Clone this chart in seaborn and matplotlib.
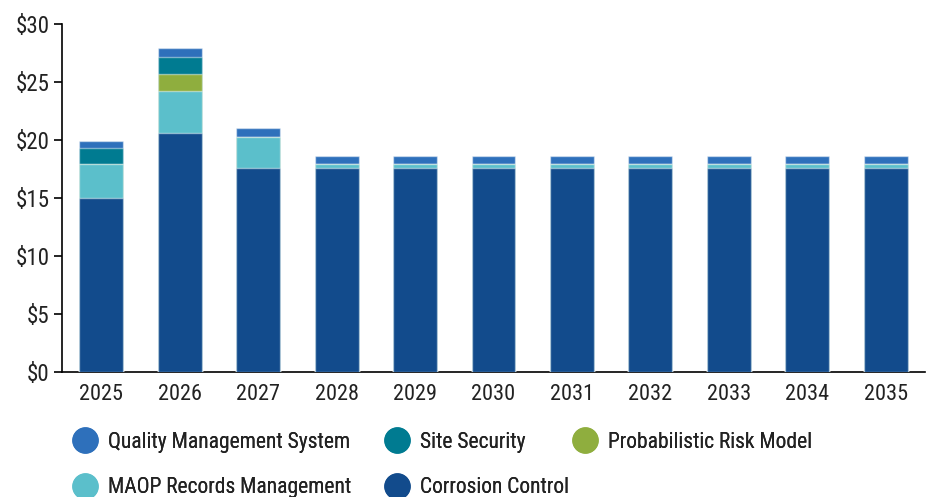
import matplotlib
matplotlib.use("Agg")
import matplotlib.pyplot as plt
from matplotlib import font_manager
from matplotlib.lines import Line2D
import seaborn as sns
import pandas as pd
import numpy as np

years = ["2025", "2026", "2027", "2028", "2029", "2030", "2031", "2032", "2033", "2034", "2035"]
corrosion_control = [15.0, 20.6, 17.6, 17.6, 17.6, 17.6, 17.6, 17.6, 17.6, 17.6, 17.6]
maop_records = [2.9, 3.6, 2.7, 0.3, 0.3, 0.3, 0.3, 0.3, 0.3, 0.3, 0.3]
probabilistic_risk = [0.0, 1.45, 0.0, 0.0, 0.0, 0.0, 0.0, 0.0, 0.0, 0.0, 0.0]
site_security = [1.45, 1.5, 0.0, 0.0, 0.0, 0.0, 0.0, 0.0, 0.0, 0.0, 0.0]
quality_mgmt = [0.55, 0.75, 0.7, 0.7, 0.7, 0.7, 0.7, 0.7, 0.7, 0.7, 0.7]
y_ticks = [0, 5, 10, 15, 20, 25, 30]

series = [
    ("Corrosion Control", corrosion_control, "#124b8c"),
    ("MAOP Records Management", maop_records, "#5bbfcb"),
    ("Probabilistic Risk Model", probabilistic_risk, "#8fae3e"),
    ("Site Security", site_security, "#007b91"),
    ("Quality Management System", quality_mgmt, "#2e70bb"),
]

sns.set_theme(style="white")

family = "DejaVu Sans"
for cand in ["Roboto Condensed", "Liberation Sans Narrow", "Open Sans Condensed", "Noto Sans"]:
    try:
        font_manager.findfont(cand, fallback_to_default=False)
        family = cand
        break
    except Exception:
        continue
plt.rcParams["font.family"] = [family, "DejaVu Sans"]

W, H = 935, 497
fig = plt.figure(figsize=(W / 100, H / 100), dpi=100)
ax = fig.add_axes([62 / W, 1 - 372 / H, (925 - 62) / W, (372 - 24) / H])

# stacked bars: draw cumulative totals from the top segment down
cum = np.cumsum([np.array(s[1]) for s in series], axis=0)
for i in range(len(series) - 1, -1, -1):
    df = pd.DataFrame({"year": years, "value": cum[i]})
    sns.barplot(data=df, x="year", y="value", color=series[i][2], saturation=1,
                width=0.56, edgecolor=(1, 1, 1, 0.45), linewidth=1.0, ax=ax,
                zorder=2 + (len(series) - i))

ax.set_xlim(-0.5, len(years) - 0.5)
ax.set_ylim(0, 30)
ax.set_yticks(y_ticks)
ax.set_yticklabels([f"${v}" for v in y_ticks])
ax.set_xlabel("")
ax.set_ylabel("")
for s in ["top", "right"]:
    ax.spines[s].set_visible(False)
for s in ["left", "bottom"]:
    ax.spines[s].set_color("black")
    ax.spines[s].set_linewidth(1.2)
ax.tick_params(axis="y", which="both", left=True, length=6, width=1.2, color="black",
               labelsize=16.5, labelcolor="#222222", pad=3)
ax.tick_params(axis="x", bottom=False, labelsize=16, labelcolor="#222222", pad=3)

# legend laid out in three columns, two rows
colors = {name: c for name, _, c in series}
columns = [
    (74, ["Quality Management System", "MAOP Records Management"]),
    (386, ["Site Security", "Corrosion Control"]),
    (574, ["Probabilistic Risk Model"]),
]
for x_px, names in columns:
    handles = [Line2D([0], [0], marker="o", linestyle="none", markersize=18,
                      markerfacecolor=colors[n], markeredgecolor=colors[n]) for n in names]
    leg = fig.legend(handles, names, loc="upper left", bbox_to_anchor=(x_px / W, 1 - 432 / H),
                     frameon=False, fontsize=15.5, handletextpad=0.6, borderpad=0,
                     borderaxespad=0, labelspacing=1.12, handlelength=1.0,
                     labelcolor="#222222")
    fig.add_artist(leg)

fig.savefig("out.png", dpi=100)
